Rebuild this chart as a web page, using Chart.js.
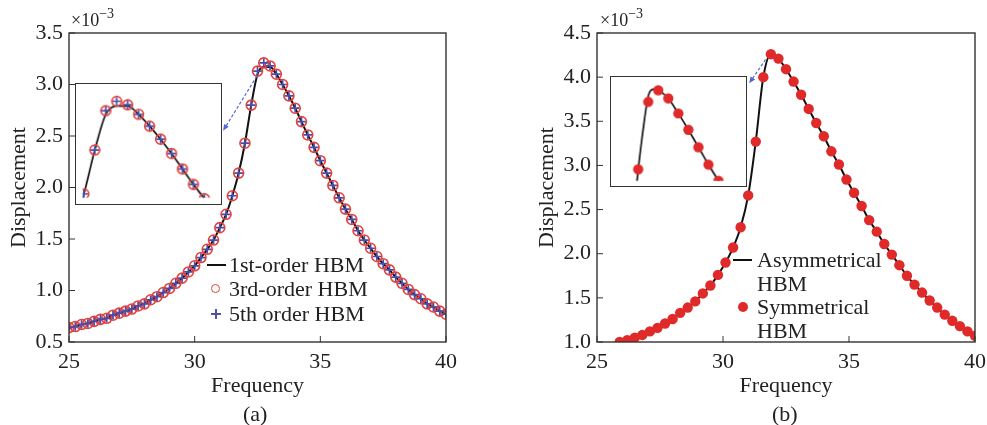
<!DOCTYPE html>
<html>
<head>
<meta charset="utf-8">
<script src="https://cdn.jsdelivr.net/npm/chart.js@4.4.1/dist/chart.umd.min.js"></script>
<style>
  body { margin: 0; background: #fff; }
  #wrap { position: relative; width: 987px; height: 425px; font-family: "Liberation Serif", serif; color: #222; }
  canvas { position: absolute; }
  .inset { background: #fff; border: 1.5px solid #333; }
  .txt { position: absolute; font-size: 22px; line-height: 24px; white-space: nowrap; }
  .exp { position: absolute; font-size: 18px; line-height: 20px; white-space: nowrap; }
  .exp span { position: relative; top: -8px; font-size: 14px; }
  .sw { position: absolute; }
</style>
</head>
<body>
<div id="wrap">
  <canvas id="chartA" width="490" height="425" style="left:0;top:0"></canvas>
  <canvas id="chartB" width="490" height="425" style="left:497px;top:0"></canvas>
  <canvas id="insetA" class="inset" width="147" height="122" style="left:75px;top:83px"></canvas>
  <canvas id="insetB" class="inset" width="137" height="111" style="left:610px;top:76px"></canvas>

  <div class="exp" style="left:71px;top:10px">×10<span>−3</span></div>
  <div class="exp" style="left:600px;top:10px">×10<span>−3</span></div>

  <!-- legend (a) -->
  <div class="sw" style="left:207px;top:264px;width:19px;height:2px;background:#111"></div>
  <div class="txt" style="left:229px;top:253px">1st-order HBM</div>
  <div class="sw" style="left:211px;top:284px;width:7px;height:7px;border:1.6px solid #e8403a;border-radius:50%"></div>
  <div class="txt" style="left:229px;top:277px">3rd-order HBM</div>
  <div class="sw" style="left:211px;top:313px;width:10px;height:1.6px;background:#5050a8"></div>
  <div class="sw" style="left:215.2px;top:308.5px;width:1.6px;height:10px;background:#5050a8"></div>
  <div class="txt" style="left:229px;top:302px">5th order HBM</div>

  <!-- legend (b) -->
  <div class="sw" style="left:733px;top:259px;width:19px;height:2px;background:#111"></div>
  <div class="txt" style="left:757px;top:248px">Asymmetrical</div>
  <div class="txt" style="left:757px;top:272px">HBM</div>
  <div class="sw" style="left:738px;top:302px;width:10px;height:10px;background:#e02a2a;border-radius:50%"></div>
  <div class="txt" style="left:757px;top:295px">Symmetrical</div>
  <div class="txt" style="left:757px;top:319px">HBM</div>

  <div class="txt" style="left:243px;top:402px">(a)</div>
  <div class="txt" style="left:772px;top:402px">(b)</div>
</div>
<script>
// panel (a): frequency response, 1st / 3rd / 5th order HBM
const freqA = [25, 25.25, 25.5, 25.75, 26, 26.25, 26.5, 26.75, 27, 27.25, 27.5, 27.75, 28, 28.25, 28.5, 28.75,
  29, 29.25, 29.5, 29.75, 30, 30.25, 30.5, 30.75, 31, 31.25, 31.5, 31.75, 32, 32.25, 32.5, 32.75,
  33, 33.25, 33.5, 33.75, 34, 34.25, 34.5, 34.75, 35, 35.25, 35.5, 35.75, 36, 36.25, 36.5, 36.75,
  37, 37.25, 37.5, 37.75, 38, 38.25, 38.5, 38.75, 39, 39.25, 39.5, 39.75, 40];
const firstA = [0.64, 0.65, 0.67, 0.68, 0.70, 0.72, 0.73, 0.76, 0.78, 0.80, 0.82, 0.85, 0.87, 0.91, 0.94, 0.98,
  1.02, 1.07, 1.12, 1.18, 1.24, 1.32, 1.40, 1.49, 1.61, 1.74, 1.92, 2.14, 2.43, 2.80, 3.10, 3.17,
  3.17, 3.10, 3.00, 2.89, 2.77, 2.64, 2.51, 2.39, 2.26, 2.14, 2.02, 1.90, 1.79, 1.69, 1.58, 1.49,
  1.41, 1.33, 1.26, 1.20, 1.13, 1.07, 1.01, 0.96, 0.92, 0.87, 0.84, 0.80, 0.77];
const thirdA = [0.64, 0.65, 0.67, 0.68, 0.70, 0.72, 0.73, 0.76, 0.78, 0.80, 0.82, 0.85, 0.87, 0.91, 0.94, 0.98,
  1.02, 1.07, 1.12, 1.18, 1.24, 1.32, 1.40, 1.49, 1.61, 1.74, 1.92, 2.14, 2.43, 2.80, 3.13, 3.21,
  3.18, 3.10, 3.00, 2.89, 2.77, 2.64, 2.51, 2.39, 2.26, 2.14, 2.02, 1.90, 1.79, 1.69, 1.58, 1.49,
  1.41, 1.33, 1.26, 1.20, 1.13, 1.07, 1.01, 0.96, 0.92, 0.87, 0.84, 0.80, 0.77];
const fifthA = [0.64, 0.65, 0.67, 0.68, 0.70, 0.72, 0.73, 0.76, 0.78, 0.80, 0.82, 0.85, 0.87, 0.91, 0.94, 0.98,
  1.02, 1.07, 1.12, 1.18, 1.24, 1.32, 1.40, 1.49, 1.61, 1.74, 1.92, 2.14, 2.43, 2.80, 3.13, 3.21,
  3.18, 3.10, 3.00, 2.89, 2.77, 2.64, 2.51, 2.39, 2.26, 2.14, 2.02, 1.90, 1.79, 1.69, 1.58, 1.49,
  1.41, 1.33, 1.26, 1.20, 1.13, 1.07, 1.01, 0.96, 0.92, 0.87, 0.84, 0.80, 0.77];

// panel (b): asymmetrical vs symmetrical HBM
const freqB = [25.9, 26.2, 26.5, 26.8, 27.1, 27.4, 27.7, 28.0, 28.3, 28.6, 28.9, 29.2, 29.5, 29.8, 30.1, 30.4,
  30.7, 31.0, 31.3, 31.6, 31.9, 32.2, 32.5, 32.8, 33.1, 33.4, 33.7, 34.0, 34.3, 34.6, 34.9, 35.2,
  35.5, 35.8, 36.1, 36.4, 36.7, 37.0, 37.3, 37.6, 37.9, 38.2, 38.5, 38.8, 39.1, 39.4, 39.7, 40.0];
const asymB = [1.00, 1.02, 1.05, 1.08, 1.12, 1.16, 1.21, 1.26, 1.33, 1.39, 1.46, 1.55, 1.64, 1.76, 1.90, 2.07,
  2.30, 2.66, 3.27, 4.00, 4.26, 4.21, 4.09, 3.95, 3.80, 3.64, 3.48, 3.33, 3.16, 3.01, 2.84, 2.69,
  2.54, 2.38, 2.25, 2.11, 1.99, 1.87, 1.75, 1.65, 1.56, 1.47, 1.39, 1.31, 1.24, 1.18, 1.12, 1.07];
const symB = [1.00, 1.02, 1.05, 1.08, 1.12, 1.16, 1.21, 1.26, 1.33, 1.39, 1.46, 1.55, 1.64, 1.76, 1.90, 2.07,
  2.30, 2.66, 3.27, 4.00, 4.26, 4.21, 4.09, 3.95, 3.80, 3.64, 3.48, 3.33, 3.16, 3.01, 2.84, 2.69,
  2.54, 2.38, 2.25, 2.11, 1.99, 1.87, 1.75, 1.65, 1.56, 1.47, 1.39, 1.31, 1.24, 1.18, 1.12, 1.07];

// zoomed inset of (b), read separately
const insetLineFreqB = [31.2, 31.3, 31.45, 31.6, 31.75, 31.9, 32.2, 32.5, 32.8, 33.1, 33.4, 33.7, 33.8];
const insetAsymB = [3.30, 3.58, 3.93, 4.21, 4.27, 4.26, 4.19, 4.06, 3.92, 3.77, 3.62, 3.48, 3.43];
const insetFreqB = [31.3, 31.6, 31.9, 32.2, 32.5, 32.8, 33.1, 33.4, 33.7];
const insetSymB = [3.58, 4.16, 4.26, 4.19, 4.06, 3.92, 3.77, 3.62, 3.48];

const yTicksA = [0.5, 3.5];
const yTicksB = [1.0, 4.5];
const xRange = [25, 40];

const pts = (xs, ys) => xs.map((x, i) => ({ x: x, y: ys[i] }));
const FONT = { family: '"Liberation Serif", serif', size: 22 };

// box around the plot + short ticks pointing inward
const framePlugin = {
  id: 'frame',
  afterDraw(chart) {
    const { ctx, chartArea: a, scales } = chart;
    ctx.save();
    ctx.strokeStyle = '#333';
    ctx.lineWidth = 1.4;
    ctx.strokeRect(a.left, a.top, a.right - a.left, a.bottom - a.top);
    ctx.lineWidth = 1;
    ctx.beginPath();
    scales.x.ticks.forEach(t => {
      const px = scales.x.getPixelForValue(t.value);
      ctx.moveTo(px, a.bottom); ctx.lineTo(px, a.bottom - 6);
    });
    scales.y.ticks.forEach(t => {
      const py = scales.y.getPixelForValue(t.value);
      ctx.moveTo(a.left, py); ctx.lineTo(a.left + 6, py);
    });
    ctx.stroke();
    ctx.restore();
  }
};

// dashed arrow from the peak to the inset
const arrowPlugin = {
  id: 'arrow',
  afterDraw(chart, args, opts) {
    if (!opts.from) return;
    const { ctx, scales: { x, y } } = chart;
    const x1 = x.getPixelForValue(opts.from[0]), y1 = y.getPixelForValue(opts.from[1]);
    const x2 = x.getPixelForValue(opts.to[0]), y2 = y.getPixelForValue(opts.to[1]);
    const ang = Math.atan2(y2 - y1, x2 - x1);
    ctx.save();
    ctx.strokeStyle = '#5468d4';
    ctx.fillStyle = '#5468d4';
    ctx.lineWidth = 1.2;
    ctx.setLineDash([3, 2]);
    ctx.beginPath();
    ctx.moveTo(x1, y1);
    ctx.lineTo(x2 - 4 * Math.cos(ang), y2 - 4 * Math.sin(ang));
    ctx.stroke();
    ctx.setLineDash([]);
    ctx.beginPath();
    ctx.moveTo(x2, y2);
    ctx.lineTo(x2 - 7 * Math.cos(ang - 0.4), y2 - 7 * Math.sin(ang - 0.4));
    ctx.lineTo(x2 - 7 * Math.cos(ang + 0.4), y2 - 7 * Math.sin(ang + 0.4));
    ctx.closePath();
    ctx.fill();
    ctx.restore();
  }
};

function mainOptions(yr, padLeft, padRight, arrow) {
  return {
    responsive: false,
    animation: false,
    events: [],
    layout: { padding: { left: padLeft, right: padRight, top: 33, bottom: 0 } },
    plugins: { legend: { display: false }, tooltip: { enabled: false }, arrow: arrow },
    scales: {
      x: {
        type: 'linear', min: xRange[0], max: xRange[1],
        grid: { display: false, drawTicks: false },
        border: { display: false },
        ticks: { stepSize: 5, padding: 7, color: '#222', font: FONT, maxRotation: 0 },
        title: { display: true, text: 'Frequency', color: '#222', font: FONT, padding: { top: 0, bottom: 26 } },
        afterFit: s => { s.height = 83; s.paddingLeft = 0; s.paddingRight = 0; }
      },
      y: {
        min: yr[0], max: yr[1],
        grid: { display: false, drawTicks: false },
        border: { display: false },
        ticks: { stepSize: 0.5, padding: 6, color: '#222', font: FONT, callback: v => v.toFixed(1) },
        title: { display: true, text: 'Displacement', color: '#222', font: FONT, padding: { top: 6, bottom: 0 } },
        afterFit: s => { s.width = 69; s.paddingTop = 0; s.paddingBottom = 0; }
      }
    }
  };
}

function insetOptions(xr, yr) {
  return {
    responsive: false,
    animation: false,
    events: [],
    layout: { padding: 0 },
    plugins: { legend: { display: false }, tooltip: { enabled: false } },
    scales: {
      x: { type: 'linear', min: xr[0], max: xr[1], display: false },
      y: { min: yr[0], max: yr[1], display: false }
    }
  };
}

const plusSet = (xs, ys) => ({
  label: '5th order HBM', data: pts(xs, ys), showLine: false, order: 0,
  pointStyle: 'cross', pointRadius: 4.3, pointBorderWidth: 1.7,
  pointBorderColor: '#4c4ca6', borderColor: '#4c4ca6'
});
const ringSet = (xs, ys) => ({
  label: '3rd-order HBM', data: pts(xs, ys), showLine: false, order: 1,
  pointStyle: 'circle', pointRadius: 5, pointBorderWidth: 1.6,
  pointBorderColor: '#e8403a', pointBackgroundColor: 'rgba(255,255,255,0)', borderColor: '#e8403a'
});
const dotSet = (xs, ys) => ({
  label: 'Symmetrical HBM', data: pts(xs, ys), showLine: false, order: 0,
  pointStyle: 'circle', pointRadius: 5.2, pointBorderWidth: 0,
  pointBackgroundColor: '#e02a2a', borderColor: '#e02a2a'
});
const lineSet = (label, xs, ys, w) => ({
  label: label, data: pts(xs, ys), order: 2,
  borderColor: '#111', borderWidth: w, pointRadius: 0, cubicInterpolationMode: 'monotone'
});

new Chart(document.getElementById('chartA'), {
  type: 'line',
  data: { datasets: [plusSet(freqA, fifthA), ringSet(freqA, thirdA), lineSet('1st-order HBM', freqA, firstA, 2)] },
  options: mainOptions(yTicksA, 0, 44, { from: [32.47, 3.08], to: [31.13, 2.55] }),
  plugins: [framePlugin, arrowPlugin]
});

new Chart(document.getElementById('chartB'), {
  type: 'line',
  data: { datasets: [dotSet(freqB, symB), lineSet('Asymmetrical HBM', freqB, asymB, 2)] },
  options: mainOptions(yTicksB, 31, 12, { from: [31.69, 4.2], to: [31.04, 3.93] }),
  plugins: [framePlugin, arrowPlugin]
});

new Chart(document.getElementById('insetA'), {
  type: 'line',
  data: { datasets: [plusSet(freqA, fifthA), ringSet(freqA, thirdA), lineSet('1st-order HBM', freqA, firstA, 1.7)] },
  options: insetOptions([31.97, 34.98], [2.40, 3.30])
});

new Chart(document.getElementById('insetB'), {
  type: 'line',
  data: { datasets: [dotSet(insetFreqB, insetSymB), lineSet('Asymmetrical HBM', insetLineFreqB, insetAsymB, 1.7)] },
  options: insetOptions([30.64, 34.37], [3.48, 4.33])
});
</script>
</body>
</html>
